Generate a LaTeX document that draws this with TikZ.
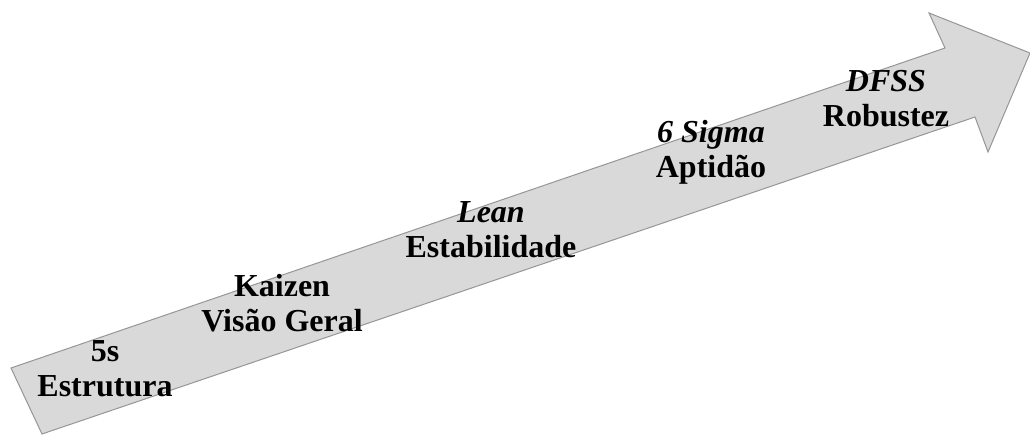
\documentclass[tikz,border=0pt]{standalone}
\usepackage{fontspec}
\setmainfont{Liberation Serif}
\usepackage{tikz}
\usepackage{xcolor}
\definecolor{arrowfill}{RGB}{217,217,217}
\definecolor{arrowline}{RGB}{150,150,150}

\begin{document}
\begin{tikzpicture}[x=1pt, y=-1pt,
        steplabel/.style={anchor=base, align=center, inner sep=0pt,
            font=\fontsize{32}{35}\selectfont\bfseries}]
        \useasboundingbox (0,0) rectangle (1030,435);
        \filldraw[fill=arrowfill, draw=arrowline, line width=1pt]
            (11,368) -- (945,48) -- (929,13) -- (1030,53) -- (988,152)
            -- (975,117) -- (42,434) -- cycle;
        \node[steplabel] (s5) at (105,396) {5s\\Estrutura};
        \node[steplabel] (kaizen) at (282,331) {Kaizen\\Visão Geral};
        \node[steplabel] (lean) at (491,258) {\textit{Lean}\\Estabilidade};
        \node[steplabel] (sigma) at (711,178) {\textit{6 Sigma}\\Aptidão};
        \node[steplabel] (dfss) at (886,127) {\textit{DFSS}\\Robustez};
    \end{tikzpicture}
\end{document}
